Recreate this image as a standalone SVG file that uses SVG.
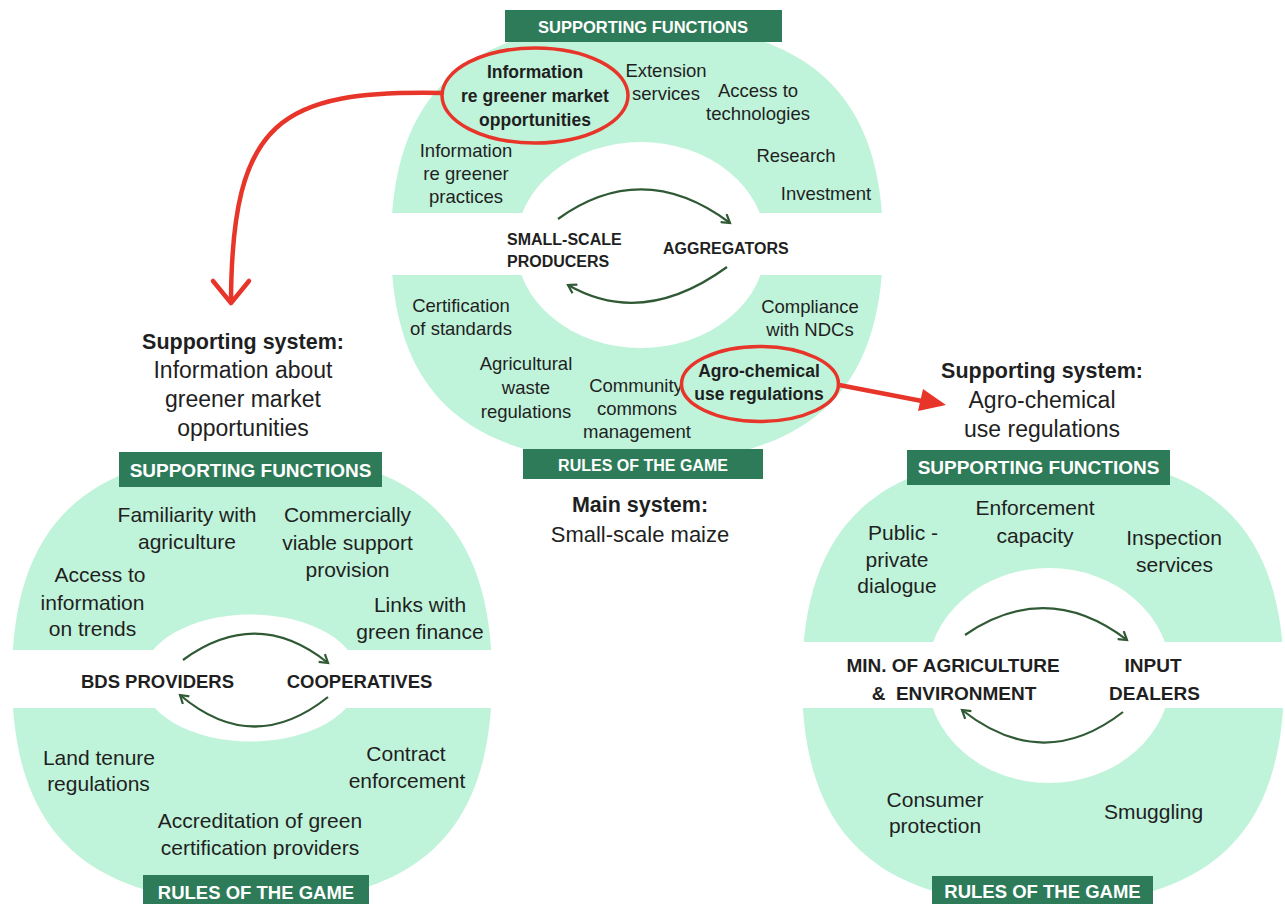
<svg xmlns="http://www.w3.org/2000/svg" width="1285" height="904" viewBox="0 0 1285 904">
<style>
text{font-family:"Liberation Sans",Arial,sans-serif;fill:#1f1f1f;text-anchor:middle}
.band{fill:#bff3da}
.hdr{fill:#2e7b59}
.hdrt{fill:#ffffff;font-weight:bold}
.t1{font-size:18.5px}
.b1{font-size:16px;font-weight:bold}
.bl1{font-size:17.5px;font-weight:bold}
.t2{font-size:21px}
.b2{font-size:18.5px;font-weight:bold}
.lab{font-size:23px}
.labb{font-size:21.5px;font-weight:bold}
.cyc{fill:none;stroke:#2f5a35;stroke-width:2.2}
.red{fill:none;stroke:#e8352a;stroke-width:3.5}
.redarrow{fill:none;stroke:#e8352a;stroke-width:4.5;stroke-linecap:round;stroke-linejoin:round}
</style>
<defs>
<marker id="vhead" markerWidth="12" markerHeight="12" refX="9" refY="6" orient="auto" markerUnits="userSpaceOnUse">
<path d="M1,1 L9,6 L1,11" fill="none" stroke="#2f5a35" stroke-width="2.2"/>
</marker>
<mask id="mTop" maskUnits="userSpaceOnUse" x="0" y="0" width="1285" height="904">
<rect x="370" y="42" width="540" height="171" fill="#fff"/>
<rect x="370" y="275" width="540" height="180" fill="#fff"/>
<ellipse cx="641" cy="245" rx="125" ry="103" fill="#000"/>
</mask>
<mask id="mLeft" maskUnits="userSpaceOnUse" x="0" y="0" width="1285" height="904">
<rect x="0" y="470" width="520" height="180" fill="#fff"/>
<rect x="0" y="708" width="520" height="196" fill="#fff"/>
<ellipse cx="250.5" cy="678" rx="108.6" ry="63.5" fill="#000"/>
</mask>
<mask id="mRight" maskUnits="userSpaceOnUse" x="0" y="0" width="1285" height="904">
<rect x="780" y="468" width="505" height="174" fill="#fff"/>
<rect x="780" y="708" width="505" height="196" fill="#fff"/>
<ellipse cx="1049" cy="675.5" rx="122" ry="107.5" fill="#000"/>
</mask>
</defs>
<rect width="1285" height="904" fill="#ffffff"/>

<g id="main-system">
<path class="band" mask="url(#mTop)" d="M883,243 C883,394.4 806.2,463 637,463 C467.8,463 391,394.4 391,243 C391,91.6 467.8,23 637,23 C806.2,23 883,91.6 883,243Z"/>
<rect class="hdr" x="505" y="10" width="277" height="32"/>
<text class="hdrt" x="643" y="33" style="font-size:16.5px">SUPPORTING FUNCTIONS</text>
<rect class="hdr" x="523" y="449" width="240" height="30"/>
<text class="hdrt" x="643" y="471" style="font-size:16px">RULES OF THE GAME</text>
<text class="t1" x="666" y="77">Extension</text>
<text class="t1" x="666" y="100">services</text>
<text class="t1" x="758" y="97">Access to</text>
<text class="t1" x="758" y="120">technologies</text>
<text class="t1" x="466" y="157">Information</text>
<text class="t1" x="466" y="180">re greener</text>
<text class="t1" x="466" y="203">practices</text>
<text class="t1" x="796" y="162">Research</text>
<text class="t1" x="826" y="200">Investment</text>
<text class="b1" x="507" y="245" style="text-anchor:start">SMALL-SCALE</text>
<text class="b1" x="507" y="267" style="text-anchor:start">PRODUCERS</text>
<text class="b1" x="663" y="254" style="text-anchor:start">AGGREGATORS</text>
<text class="t1" x="461" y="312">Certification</text>
<text class="t1" x="461" y="335">of standards</text>
<text class="t1" x="810" y="313">Compliance</text>
<text class="t1" x="810" y="336">with NDCs</text>
<text class="t1" x="526" y="370">Agricultural</text>
<text class="t1" x="526" y="394">waste</text>
<text class="t1" x="526" y="418">regulations</text>
<text class="t1" x="636" y="392">Community</text>
<text class="t1" x="637" y="415">commons</text>
<text class="t1" x="637" y="438">management</text>
<text class="bl1" x="535" y="78">Information</text>
<text class="bl1" x="535" y="102">re greener market</text>
<text class="bl1" x="535" y="126">opportunities</text>
<text class="bl1" x="759" y="377">Agro-chemical</text>
<text class="bl1" x="759" y="400">use regulations</text>
<ellipse class="red" cx="535" cy="95.5" rx="93" ry="47.5"/>
<ellipse class="red" cx="760" cy="384" rx="78.5" ry="37.5"/>
<text class="labb" x="640" y="512">Main system:</text>
<text class="lab" x="640" y="542" style="font-size:22px">Small-scale maize</text>
</g>

<g id="support-info">
<path class="band" mask="url(#mLeft)" d="M492,678 C492,832.8 417.1,903 252,903 C86.9,903 12,832.8 12,678 C12,523.2 86.9,453 252,453 C417.1,453 492,523.2 492,678Z"/>
<rect class="hdr" x="119" y="452" width="263" height="35"/>
<text class="hdrt" x="250.5" y="477" style="font-size:19px">SUPPORTING FUNCTIONS</text>
<rect class="hdr" x="143" y="875" width="226" height="29"/>
<text class="hdrt" x="256" y="899" style="font-size:18.5px">RULES OF THE GAME</text>
<text class="labb" x="243" y="349">Supporting system:</text>
<text class="lab" x="243" y="378">Information about</text>
<text class="lab" x="243" y="407">greener market</text>
<text class="lab" x="243" y="436">opportunities</text>
<text class="t2" x="187" y="522">Familiarity with</text>
<text class="t2" x="187" y="549">agriculture</text>
<text class="t2" x="347.5" y="522">Commercially</text>
<text class="t2" x="347.5" y="550">viable support</text>
<text class="t2" x="347.5" y="577">provision</text>
<text class="t2" x="100" y="582">Access to</text>
<text class="t2" x="92.5" y="610">information</text>
<text class="t2" x="92.5" y="636">on trends</text>
<text class="t2" x="420" y="612">Links with</text>
<text class="t2" x="420" y="639">green finance</text>
<text class="b2" x="157.5" y="688">BDS PROVIDERS</text>
<text class="b2" x="359.5" y="688">COOPERATIVES</text>
<text class="t2" x="99" y="765">Land tenure</text>
<text class="t2" x="98.5" y="791">regulations</text>
<text class="t2" x="406" y="761">Contract</text>
<text class="t2" x="407" y="788">enforcement</text>
<text class="t2" x="260" y="828">Accreditation of green</text>
<text class="t2" x="260" y="855">certification providers</text>
</g>

<g id="support-agrochem">
<path class="band" mask="url(#mRight)" d="M1284,680 C1284,834.8 1208.8,905 1043,905 C877.2,905 802,834.8 802,680 C802,525.2 877.2,455 1043,455 C1208.8,455 1284,525.2 1284,680Z"/>
<rect class="hdr" x="907" y="450" width="263" height="35"/>
<text class="hdrt" x="1038.5" y="474" style="font-size:19px">SUPPORTING FUNCTIONS</text>
<rect class="hdr" x="932" y="876" width="221" height="28"/>
<text class="hdrt" x="1042.5" y="898" style="font-size:18.5px">RULES OF THE GAME</text>
<text class="labb" x="1042" y="378">Supporting system:</text>
<text class="lab" x="1042" y="408">Agro-chemical</text>
<text class="lab" x="1042" y="437">use regulations</text>
<text class="t2" x="903" y="540">Public -</text>
<text class="t2" x="897" y="567">private</text>
<text class="t2" x="897" y="593">dialogue</text>
<text class="t2" x="1035" y="515">Enforcement</text>
<text class="t2" x="1035" y="543">capacity</text>
<text class="t2" x="1174" y="545">Inspection</text>
<text class="t2" x="1174.5" y="572">services</text>
<text style="font-size:19px;font-weight:bold" x="953" y="672">MIN. OF AGRICULTURE</text>
<text style="font-size:19px;font-weight:bold;white-space:pre" x="954" y="700">&amp;  ENVIRONMENT</text>
<text style="font-size:19px;font-weight:bold" x="1153" y="672">INPUT</text>
<text style="font-size:19px;font-weight:bold" x="1154.5" y="700">DEALERS</text>
<text class="t2" x="935" y="807">Consumer</text>
<text class="t2" x="935" y="833">protection</text>
<text class="t2" x="1153.5" y="819">Smuggling</text>
</g>

<g id="connectors">
<path class="cyc" d="M558,219 Q643,158 730,223" marker-end="url(#vhead)"/>
<path class="cyc" d="M727,267 Q643,328 568,285" marker-end="url(#vhead)"/>
<path class="cyc" d="M183,660 Q257,606 328,663" marker-end="url(#vhead)"/>
<path class="cyc" d="M328,697 Q253,757 180,695" marker-end="url(#vhead)"/>
<path class="cyc" d="M965,635 Q1047,579 1127,640" marker-end="url(#vhead)"/>
<path class="cyc" d="M1123,712 Q1043,774 962,710" marker-end="url(#vhead)"/>
<path class="redarrow" d="M442,93 C280,90 232,120 231,301"/>
<path class="redarrow" d="M213,281 L231,303 L249,281"/>
<path class="redarrow" d="M839,385 L922,401"/>
<polygon points="946,405 918,411 923,389" fill="#e8352a"/>
</g>
</svg>
